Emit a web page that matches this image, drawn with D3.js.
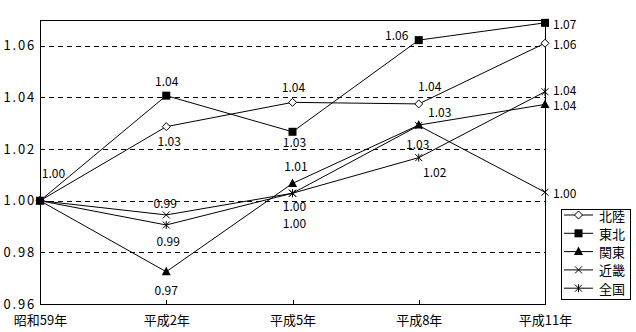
<!DOCTYPE html>
<html>
<head>
<meta charset="utf-8">
<script src="https://cdn.jsdelivr.net/npm/d3@7"></script>
<style>
  html, body { margin: 0; padding: 0; background: #fff; }
  svg { display: block; }
  text { font-family: "Noto Sans CJK JP", "Noto Sans", sans-serif; fill: #000; }
</style>
</head>
<body>
<svg id="chart" width="636" height="332"></svg>
<script>
// Survey years (Showa 59 .. Heisei 11)
const categories = ["昭和59年", "平成2年", "平成5年", "平成8年", "平成11年"];

// Index values by region (昭和59年 = 1.00)
const hokuriku = [1.000, 1.0287, 1.0381, 1.0375, 1.0610];
const tohoku   = [1.000, 1.0407, 1.0267, 1.0622, 1.0689];
const kanto    = [1.000, 0.9725, 1.0067, 1.0293, 1.0373];
const kinki    = [1.000, 0.9945, 1.0029, 1.0291, 1.0033];
const zenkoku  = [1.000, 0.9906, 1.0029, 1.0167, 1.0422];

const seriesNames = ["北陸", "東北", "関東", "近畿", "全国"];
const seriesValues = [hokuriku, tohoku, kanto, kinki, zenkoku];

// Y axis tick values
const yTicks = [0.96, 0.98, 1.00, 1.02, 1.04, 1.06];

// Marker shape for each series
const markerKinds = ["diamond", "square", "triangle", "cross", "asterisk"];

// Data label placement: [dx, dy, anchor] relative to each point, null = no label
const labelPlacement = [
  [[13.5, -28, "middle"], [3, 13.5, "middle"], [1, -15.5, "middle"], [11, -18.5, "middle"], [8, 0, "start"]],
  [null, [0.5, -15.5, "middle"], [2, 10, "middle"], [-22, -6, "middle"], [8, 0.5, "start"]],
  [null, [0, 17.5, "middle"], [3.5, -17.5, "middle"], [21, -13.5, "middle"], [8, 0, "start"]],
  [null, [-1, -12, "middle"], [2, 12.5, "middle"], [-1, 18, "middle"], [8, 0, "start"]],
  [null, [2, 16, "middle"], [2, 29, "middle"], [16, 14, "middle"], [8, -2, "start"]]
];

const svg = d3.select("#chart");
const plot = { left: 40, right: 545, top: 20, bottom: 304 };

const x = d3.scalePoint().domain(categories).range([plot.left, plot.right]).padding(0);
const y = d3.scaleLinear().domain([0.96, 1.07]).range([plot.bottom, plot.top]);
const fmt = d3.format(".2f");

// Dashed horizontal gridlines
svg.append("g")
  .selectAll("line")
  .data(yTicks.filter(t => t > 0.96))
  .join("line")
  .attr("x1", plot.left).attr("x2", plot.right)
  .attr("y1", d => Math.round(y(d)) + 0.5).attr("y2", d => Math.round(y(d)) + 0.5)
  .attr("stroke", "#000").attr("stroke-width", 1)
  .attr("stroke-dasharray", "5,4")
  .attr("shape-rendering", "crispEdges");

// Plot frame
svg.append("rect")
  .attr("x", plot.left + 0.5).attr("y", plot.top + 0.5)
  .attr("width", plot.right - plot.left).attr("height", plot.bottom - plot.top)
  .attr("fill", "none").attr("stroke", "#000").attr("stroke-width", 1)
  .attr("shape-rendering", "crispEdges");

// Y axis labels
const yAxis = d3.axisLeft(y).tickValues(yTicks).tickSize(0).tickPadding(4).tickFormat(fmt);
const yg = svg.append("g").attr("transform", `translate(${plot.left},0)`).call(yAxis);
yg.select(".domain").remove();
yg.selectAll("text")
  .attr("font-family", "'Noto Sans CJK JP', sans-serif")
  .attr("font-size", 13)
  .attr("letter-spacing", "1.8px")
  .attr("fill", "#000");

// X axis: short inward ticks and labels below
const xAxis = d3.axisBottom(x).tickSize(0).tickPadding(12);
const xg = svg.append("g").attr("transform", `translate(0,${plot.bottom})`).call(xAxis);
xg.select(".domain").remove();
xg.selectAll("text")
  .attr("font-family", "'Noto Sans CJK JP', sans-serif")
  .attr("font-size", 13)
  .attr("fill", "#000");
xg.selectAll(".tick").append("line")
  .attr("y1", 0).attr("y2", -4)
  .attr("stroke", "#000").attr("shape-rendering", "crispEdges");

// Marker drawing
function markerPath(kind) {
  switch (kind) {
    case "diamond":  return "M0,-4L4,0L0,4L-4,0Z";
    case "square":   return "M-4,-4H4V4H-4Z";
    case "triangle": return "M0,-5L4.5,3.5L-4.5,3.5Z";
    case "cross":    return "M-3.5,-3.5L3.5,3.5M-3.5,3.5L3.5,-3.5";
    case "asterisk": return "M-3.5,-3.5L3.5,3.5M-3.5,3.5L3.5,-3.5M0,-4L0,4";
  }
}
function styleMarker(sel, kind) {
  if (kind === "diamond") sel.attr("fill", "#fff").attr("stroke", "#000").attr("stroke-width", 1);
  else if (kind === "square" || kind === "triangle") sel.attr("fill", "#000").attr("stroke", "none");
  else sel.attr("fill", "none").attr("stroke", "#000").attr("stroke-width", 1);
}

const line = d3.line().x((d, i) => x(categories[i])).y(d => y(d));

const seriesG = svg.append("g");
seriesValues.forEach((vals, s) => {
  const g = seriesG.append("g");
  g.append("path")
    .attr("d", line(vals))
    .attr("fill", "none").attr("stroke", "#000").attr("stroke-width", 1);
  g.selectAll("path.m")
    .data(vals)
    .join("path")
    .attr("class", "m")
    .attr("transform", (d, i) => `translate(${x(categories[i])},${y(d)})`)
    .attr("d", markerPath(markerKinds[s]))
    .call(styleMarker, markerKinds[s]);
});

// Data labels (drawn from the same values)
const labelG = svg.append("g");
seriesValues.forEach((vals, s) => {
  vals.forEach((v, i) => {
    const p = labelPlacement[s][i];
    if (!p) return;
    labelG.append("text")
      .attr("x", x(categories[i]) + p[0])
      .attr("y", y(v) + p[1])
      .attr("text-anchor", p[2])
      .attr("dominant-baseline", "central")
      .attr("font-size", 12)
      .text(fmt(v));
  });
});

// Legend
const legend = svg.append("g");
legend.append("rect")
  .attr("x", 561.5).attr("y", 209.5).attr("width", 69).attr("height", 90)
  .attr("fill", "#fff").attr("stroke", "#000").attr("shape-rendering", "crispEdges");
seriesNames.forEach((name, s) => {
  const cy = 215 + s * 18.3;
  const row = legend.append("g").attr("transform", `translate(0,${cy})`);
  row.append("line").attr("x1", 564).attr("x2", 593).attr("y1", 0).attr("y2", 0)
    .attr("stroke", "#000");
  row.append("path")
    .attr("transform", "translate(578.5,0)")
    .attr("d", markerPath(markerKinds[s]))
    .call(styleMarker, markerKinds[s]);
  row.append("text")
    .attr("x", 599).attr("y", 0)
    .attr("dominant-baseline", "central")
    .attr("font-size", 13)
    .text(name);
});
</script>
</body>
</html>
